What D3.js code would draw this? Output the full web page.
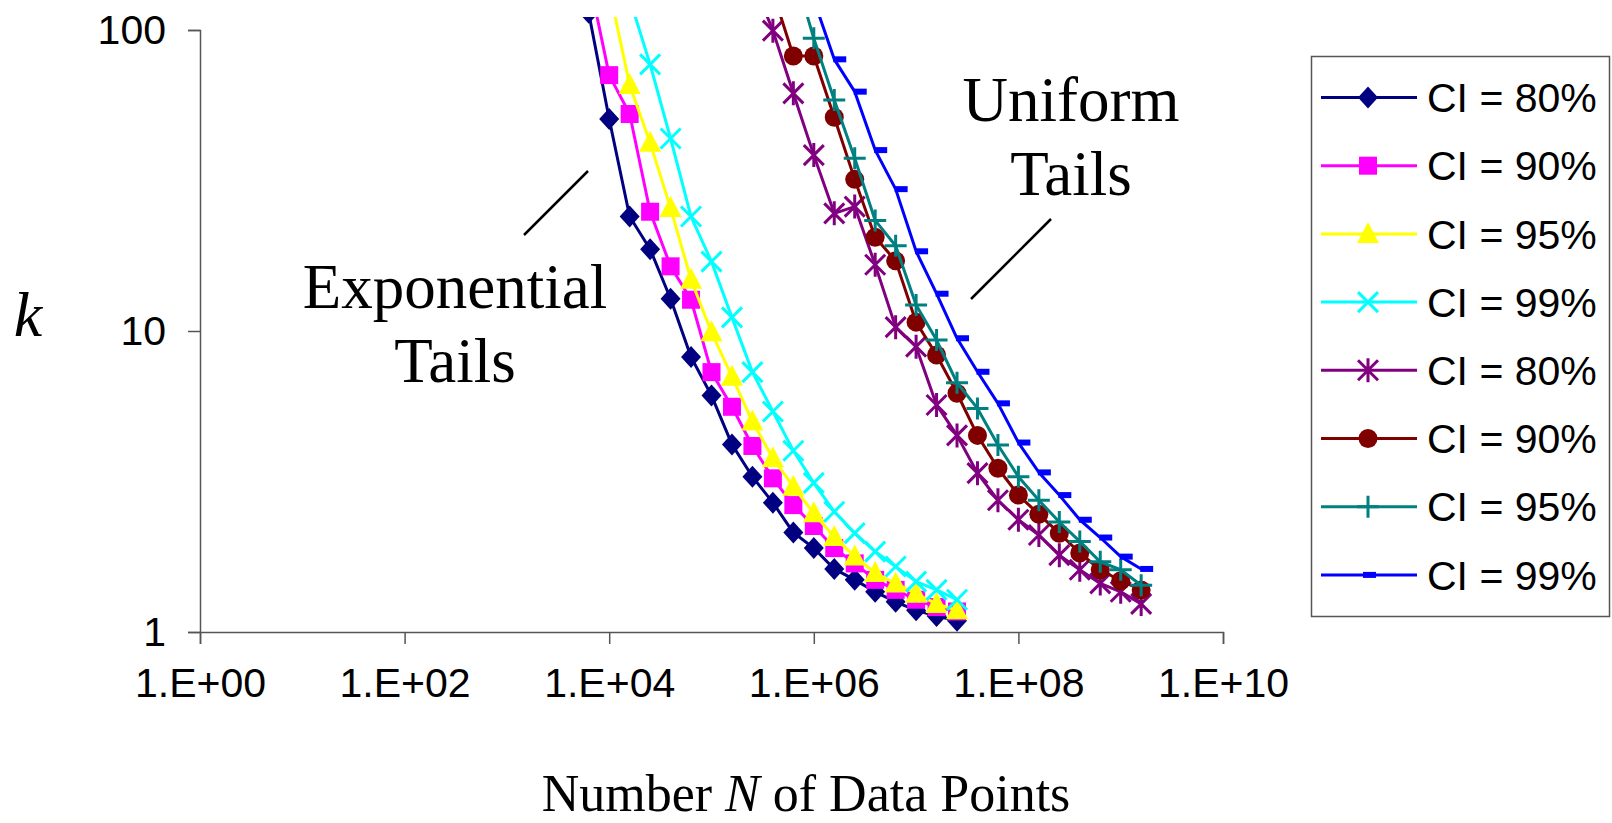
<!DOCTYPE html>
<html>
<head>
<meta charset="utf-8">
<script src="https://cdn.jsdelivr.net/npm/d3@7/dist/d3.min.js"></script>
<style>
  body { margin: 0; background: #fff; }
  svg { display: block; }
</style>
</head>
<body>
<svg width="1612" height="823"></svg>
<script>

// N values (x axis), exponential tails group: 10^3.8 .. 10^7.4
var nExp = [6310, 10000, 15850, 25120, 39810, 63100, 100000, 158500, 251200, 398100,
  631000, 1000000, 1585000, 2512000, 3981000, 6310000, 10000000, 15850000, 25120000];

// N values, uniform tails group: 10^5.4 .. 10^9.2
var nUni = [251200, 398100, 631000, 1000000, 1585000, 2512000, 3981000, 6310000, 10000000,
  15850000, 25120000, 39810000, 63100000, 100000000, 158500000, 251200000, 398100000,
  631000000, 1000000000, 1585000000];

// k values (null = no point)
var kExp80 = [114, 50.6, 24, 18.7, 12.8, 8.2, 6.1, 4.2, 3.28, 2.69, 2.14, 1.90, 1.62, 1.49, 1.36, 1.26, 1.18, 1.13, 1.09];
var kExp90 = [150, 70.8, 52.6, 24.9, 16.4, 12.7, 7.3, 5.6, 4.15, 3.24, 2.64, 2.25, 1.90, 1.69, 1.49, 1.38, 1.28, 1.21, 1.17];
var kExp95 = [null, 137, 65.7, 42.2, 25.6, 14.8, 9.9, 7.05, 5.0, 3.78, 3.04, 2.48, 2.07, 1.78, 1.57, 1.45, 1.34, 1.24, 1.18];
var kExp99 = [null, null, 127, 76.9, 43.6, 24, 17.0, 11.1, 7.3, 5.4, 4.0, 3.13, 2.51, 2.13, 1.85, 1.65, 1.47, 1.38, 1.28];

var kUni80 = [147, 99.5, 61.6, 38.4, 24.6, 25.9, 16.6, 10.3, 8.87, 5.68, 4.5, 3.37, 2.74, 2.36, 2.10, 1.80, 1.61, 1.45, 1.36, 1.24];
var kUni90 = [null, 134, 82, 82, 51.3, 31.9, 20.5, 17.1, 10.7, 8.32, 6.21, 4.5, 3.5, 2.85, 2.46, 2.13, 1.83, 1.61, 1.48, 1.38];
var kUni95 = [null, null, 160, 93.8, 58.5, 37.5, 23.3, 19.2, 12.2, 9.33, 6.73, 5.53, 4.18, 3.28, 2.74, 2.32, 2.0, 1.71, 1.61, 1.43];
var kUni99 = [null, null, null, 126, 79.9, 62.4, 39.9, 29.6, 18.4, 13.3, 9.46, 7.32, 5.75, 4.26, 3.39, 2.85, 2.36, 2.06, 1.78, 1.62];

var legendLabels = ["CI = 80%", "CI = 90%", "CI = 95%", "CI = 99%", "CI = 80%", "CI = 90%", "CI = 95%", "CI = 99%"];
var xTicks = [1, 100, 10000, 1000000, 100000000, 10000000000];
var yTicks = [1, 10, 100];

var series = [
  {n: nExp, k: kExp80, color: "#000080", marker: "diamond"},
  {n: nExp, k: kExp90, color: "#ff00ff", marker: "square"},
  {n: nExp, k: kExp95, color: "#ffff00", marker: "triangle"},
  {n: nExp, k: kExp99, color: "#00ffff", marker: "x"},
  {n: nUni, k: kUni80, color: "#800080", marker: "star"},
  {n: nUni, k: kUni90, color: "#800000", marker: "circle"},
  {n: nUni, k: kUni95, color: "#008080", marker: "plus"},
  {n: nUni, k: kUni99, color: "#0000ff", marker: "dash"}
];

var svg = d3.select("svg");
var sans = "'Liberation Sans', Arial, sans-serif";
var serif = "'Liberation Serif', 'Times New Roman', serif";

var margin = {top: 30, left: 200, bottom: 632, right: 1223};

var x_scale = d3.scaleLog().domain([1, 1e10]).range([margin.left, margin.right]);
var y_scale = d3.scaleLog().domain([1, 100]).range([margin.bottom, margin.top]);

svg.append("rect").attr("width", 1612).attr("height", 823).attr("fill", "#fff");

// axes
var xAxis = d3.axisBottom(x_scale)
  .tickValues(xTicks)
  .tickSize(12)
  .tickPadding(24)
  .tickFormat(function(d) {
    var e = Math.round(Math.log10(d));
    return "1.E+" + (e < 10 ? "0" + e : e);
  });

var yAxis = d3.axisLeft(y_scale)
  .tickValues(yTicks)
  .tickSize(12)
  .tickPadding(22)
  .tickFormat(d3.format("d"));

var gX = svg.append("g")
  .attr("transform", "translate(0," + margin.bottom + ")")
  .call(xAxis);

var gY = svg.append("g")
  .attr("transform", "translate(" + margin.left + ",0)")
  .call(yAxis);

[gX, gY].forEach(function(g) {
  g.select(".domain").attr("stroke", "#555").attr("stroke-width", 1.5);
  g.selectAll(".tick line").attr("stroke", "#555").attr("stroke-width", 1.5);
  g.selectAll(".tick text")
    .attr("fill", "#000")
    .style("font-family", sans)
    .style("font-size", "41px");
});

// clip region for the data lines
svg.append("clipPath").attr("id", "plotclip")
  .append("rect")
  .attr("x", margin.left).attr("y", 17)
  .attr("width", margin.right - margin.left)
  .attr("height", margin.bottom - 17 + 4);

var plot = svg.append("g").attr("clip-path", "url(#plotclip)");

function drawMarker(g, type, color, cx, cy) {
  if (type == "diamond") {
    g.append("path").attr("d", "M" + cx + "," + (cy - 11) + "L" + (cx + 10) + "," + cy +
      "L" + cx + "," + (cy + 11) + "L" + (cx - 10) + "," + cy + "Z").attr("fill", color);
  } else if (type == "square") {
    g.append("rect").attr("x", cx - 9).attr("y", cy - 9).attr("width", 18).attr("height", 18)
      .attr("fill", color);
  } else if (type == "triangle") {
    g.append("path").attr("d", "M" + cx + "," + (cy - 12) + "L" + (cx + 11) + "," + (cy + 9) +
      "L" + (cx - 11) + "," + (cy + 9) + "Z").attr("fill", color);
  } else if (type == "circle") {
    g.append("circle").attr("cx", cx).attr("cy", cy).attr("r", 9.5).attr("fill", color);
  } else if (type == "dash") {
    g.append("rect").attr("x", cx - 1).attr("y", cy - 3).attr("width", 13).attr("height", 6)
      .attr("fill", color);
  } else {
    var p = "";
    if (type == "x" || type == "star") {
      p += "M" + (cx - 10) + "," + (cy - 10) + "L" + (cx + 10) + "," + (cy + 10);
      p += "M" + (cx - 10) + "," + (cy + 10) + "L" + (cx + 10) + "," + (cy - 10);
    }
    if (type == "star") {
      p += "M" + cx + "," + (cy - 12) + "L" + cx + "," + (cy + 12);
    }
    if (type == "plus") {
      p += "M" + (cx - 11) + "," + cy + "L" + (cx + 11) + "," + cy;
      p += "M" + cx + "," + (cy - 11) + "L" + cx + "," + (cy + 11);
    }
    g.append("path").attr("d", p).attr("stroke", color).attr("stroke-width", 3).attr("fill", "none");
  }
}

var line = d3.line()
  .defined(function(d) { return d.k != null; })
  .x(function(d) { return x_scale(d.n); })
  .y(function(d) { return y_scale(d.k); });

series.forEach(function(s) {
  var pts = s.n.map(function(n, i) { return {n: n, k: s.k[i]}; });
  var g = plot.append("g");
  g.append("path")
    .datum(pts)
    .attr("d", line)
    .attr("fill", "none")
    .attr("stroke", s.color)
    .attr("stroke-width", 3)
    .attr("stroke-linejoin", "round");
  pts.forEach(function(d) {
    if (d.k == null) return;
    drawMarker(g, s.marker, s.color, x_scale(d.n), y_scale(d.k));
  });
});

// annotations
svg.append("text").attr("x", 455).attr("y", 308).attr("text-anchor", "middle")
  .style("font-family", serif).style("font-size", "63px").text("Exponential");
svg.append("text").attr("x", 455).attr("y", 382).attr("text-anchor", "middle")
  .style("font-family", serif).style("font-size", "63px").text("Tails");
svg.append("line").attr("x1", 524).attr("y1", 235).attr("x2", 588).attr("y2", 171)
  .attr("stroke", "#000").attr("stroke-width", 2.5);

svg.append("text").attr("x", 1071).attr("y", 121).attr("text-anchor", "middle")
  .style("font-family", serif).style("font-size", "63px").text("Uniform");
svg.append("text").attr("x", 1071).attr("y", 195).attr("text-anchor", "middle")
  .style("font-family", serif).style("font-size", "63px").text("Tails");
svg.append("line").attr("x1", 971).attr("y1", 299).attr("x2", 1051).attr("y2", 219)
  .attr("stroke", "#000").attr("stroke-width", 2.5);

// axis titles
svg.append("text").attr("x", 28).attr("y", 336).attr("text-anchor", "middle")
  .style("font-family", serif).style("font-size", "64px").style("font-style", "italic")
  .text("k");

var xt = svg.append("text").attr("x", 806).attr("y", 811).attr("text-anchor", "middle")
  .style("font-family", serif).style("font-size", "52px");
xt.append("tspan").text("Number ");
xt.append("tspan").style("font-style", "italic").text("N");
xt.append("tspan").text(" of Data Points");

// legend
var legend = svg.append("g");
legend.append("rect")
  .attr("x", 1311.5).attr("y", 56.5).attr("width", 298).attr("height", 560)
  .attr("fill", "#fff").attr("stroke", "#555").attr("stroke-width", 1.5);

series.forEach(function(s, i) {
  var cy = 97.5 + i * 68.2;
  legend.append("line").attr("x1", 1321).attr("x2", 1417).attr("y1", cy).attr("y2", cy)
    .attr("stroke", s.color).attr("stroke-width", 3);
  drawMarker(legend, s.marker, s.color, s.marker == "dash" ? 1364 : 1368, cy);
  legend.append("text").attr("x", 1427).attr("y", cy).attr("dy", "0.36em")
    .style("font-family", sans).style("font-size", "41px")
    .text(legendLabels[i]);
});

</script>
</body>
</html>
